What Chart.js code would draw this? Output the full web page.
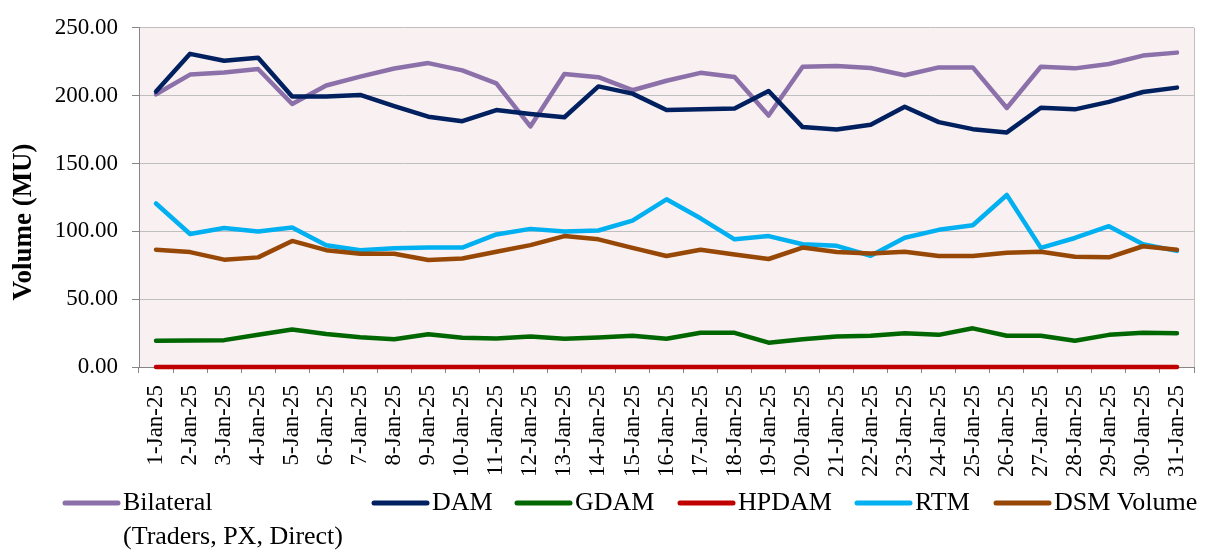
<!DOCTYPE html>
<html>
<head>
<meta charset="utf-8">
<script src="https://cdn.jsdelivr.net/npm/chart.js@4.4.1/dist/chart.umd.min.js"></script>
<style>
  body { margin: 0; background: #ffffff; }
  #wrap { width: 1217px; height: 552px; }
</style>
</head>
<body>
<div id="wrap"><canvas id="volume-chart" width="1217" height="552"></canvas></div>
<script>
// Daily volumes, January 2025 (MU)
const categories = ['1-Jan-25', '2-Jan-25', '3-Jan-25', '4-Jan-25', '5-Jan-25', '6-Jan-25', '7-Jan-25', '8-Jan-25',
  '9-Jan-25', '10-Jan-25', '11-Jan-25', '12-Jan-25', '13-Jan-25', '14-Jan-25', '15-Jan-25', '16-Jan-25',
  '17-Jan-25', '18-Jan-25', '19-Jan-25', '20-Jan-25', '21-Jan-25', '22-Jan-25', '23-Jan-25', '24-Jan-25',
  '25-Jan-25', '26-Jan-25', '27-Jan-25', '28-Jan-25', '29-Jan-25', '30-Jan-25', '31-Jan-25'];

const bilateral = [201.0, 215.5, 217.0, 219.6, 193.8, 207.5, 214.0, 220.0, 224.0, 218.6, 209.0, 177.3, 216.0, 213.6, 204.0, 211.0,
  216.8, 213.8, 185.3, 221.3, 221.8, 220.4, 215.0, 220.8, 220.8, 190.9, 221.3, 220.1, 223.3, 229.5, 231.7];
const dam = [203.0, 230.8, 225.7, 228.0, 199.3, 199.3, 200.5, 192.3, 184.5, 181.2, 189.4, 186.5, 184.1, 206.8, 201.5, 189.4,
  189.9, 190.6, 203.4, 176.8, 175.1, 178.5, 191.8, 180.5, 175.3, 172.9, 191.1, 189.9, 195.4, 202.7, 205.9];
const gdam = [19.4, 19.6, 19.8, 23.7, 27.6, 24.4, 22.0, 20.5, 24.2, 21.5, 21.0, 22.5, 20.8, 21.8, 23.0, 20.8,
  25.2, 25.2, 17.9, 20.5, 22.5, 23.0, 24.9, 23.7, 28.5, 23.0, 23.0, 19.4, 23.7, 25.2, 24.9];
const hpdam = [0, 0, 0, 0, 0, 0, 0, 0, 0, 0, 0, 0, 0, 0, 0, 0,
  0, 0, 0, 0, 0, 0, 0, 0, 0, 0, 0, 0, 0, 0, 0];
const rtm = [120.5, 98.0, 102.5, 99.9, 102.8, 89.8, 86.1, 87.6, 88.0, 88.0, 97.7, 101.8, 99.9, 100.6, 107.9, 123.6,
  109.6, 94.1, 96.5, 90.5, 89.3, 82.0, 95.3, 101.1, 104.5, 126.8, 87.8, 95.1, 103.8, 90.5, 85.6];
const dsmVolume = [86.4, 84.7, 79.1, 80.8, 92.9, 86.1, 83.5, 83.5, 78.9, 80.0, 84.9, 89.8, 96.5, 94.1, 87.8, 81.8,
  86.4, 82.9, 79.6, 88.0, 84.7, 83.7, 84.9, 81.8, 81.8, 84.2, 84.9, 81.3, 80.8, 89.0, 86.4];

const seriesNames = ['Bilateral\n(Traders, PX, Direct)', 'DAM', 'GDAM', 'HPDAM', 'RTM', 'DSM Volume'];
const seriesData = [bilateral, dam, gdam, hpdam, rtm, dsmVolume];
const seriesColors = ['#8B70A9', '#002060', '#006600', '#C00000', '#00B0F0', '#974806'];

const yTicks = [0, 50, 100, 150, 200, 250];
const yTitle = 'Volume (MU)';

const FONT = '"Liberation Serif", "Times New Roman", serif';
const AXIS_GREY = '#868686';

// where each legend entry starts (Excel lays them out unevenly)
const legendX = [63, 372, 515, 678, 855, 994];

const chartDecor = {
  id: 'chartDecor',
  beforeDraw(chart) {
    const { ctx, chartArea: a } = chart;
    ctx.save();
    ctx.fillStyle = '#F9F0F1';
    ctx.fillRect(a.left, a.top, a.right - a.left, a.bottom - a.top);
    ctx.restore();
  },
  afterDraw(chart) {
    const { ctx, chartArea: a } = chart;
    ctx.save();

    // right border of the plot area
    ctx.strokeStyle = '#BFBFBF';
    ctx.lineWidth = 1;
    ctx.beginPath();
    ctx.moveTo(a.right + 0.5, a.top);
    ctx.lineTo(a.right + 0.5, a.bottom);
    ctx.stroke();

    // y axis title
    ctx.fillStyle = '#000000';
    ctx.font = 'bold 27px ' + FONT;
    ctx.textAlign = 'center';
    ctx.textBaseline = 'middle';
    ctx.translate(24, 222);
    ctx.rotate(-Math.PI / 2);
    ctx.fillText(yTitle, 0, 0);
    ctx.restore();

    // legend
    ctx.save();
    ctx.font = '26px ' + FONT;
    ctx.textAlign = 'left';
    ctx.textBaseline = 'middle';
    chart.data.datasets.forEach((ds, i) => {
      const x = legendX[i];
      const y = 503;
      ctx.strokeStyle = ds.borderColor;
      ctx.lineWidth = 5;
      ctx.lineCap = 'round';
      ctx.beginPath();
      ctx.moveTo(x + 2, y);
      ctx.lineTo(x + 55, y);
      ctx.stroke();
      ctx.fillStyle = '#000000';
      ds.label.split('\n').forEach((line, j) => {
        ctx.fillText(line, x + 60, y + j * 34);
      });
    });
    ctx.restore();
  }
};

const ctx = document.getElementById('volume-chart').getContext('2d');

new Chart(ctx, {
  type: 'line',
  data: {
    labels: categories,
    datasets: seriesNames.map((name, i) => ({
      label: name,
      data: seriesData[i],
      borderColor: seriesColors[i],
      backgroundColor: seriesColors[i],
      borderWidth: 4.5,
      borderCapStyle: 'round',
      borderJoinStyle: 'round',
      pointRadius: 0,
      tension: 0,
      fill: false,
      clip: 8,
      order: seriesNames.length - i
    }))
  },
  options: {
    responsive: false,
    animation: false,
    layout: {
      padding: { top: 22, right: 23, left: 0, bottom: 0 }
    },
    plugins: {
      legend: { display: false },
      tooltip: { enabled: false }
    },
    scales: {
      x: {
        offset: true,
        grid: {
          display: true,
          drawOnChartArea: false,
          offset: true,
          tickLength: 6,
          tickColor: AXIS_GREY
        },
        border: { color: AXIS_GREY, width: 1 },
        ticks: {
          autoSkip: false,
          maxRotation: 90,
          minRotation: 90,
          padding: 12,
          color: '#000000',
          font: { family: FONT, size: 23 }
        },
        afterFit(scale) {
          scale.height = 185;
        }
      },
      y: {
        min: 0,
        max: 250,
        afterBuildTicks(scale) {
          scale.ticks = yTicks.map(v => ({ value: v }));
        },
        grid: {
          color: '#BFBFBF',
          lineWidth: 1,
          tickLength: 7,
          tickColor: AXIS_GREY
        },
        border: { color: AXIS_GREY, width: 1 },
        ticks: {
          padding: 14,
          color: '#000000',
          font: { family: FONT, size: 23 },
          callback: v => v.toFixed(2)
        },
        afterFit(scale) {
          scale.width = 139;
        }
      }
    }
  },
  plugins: [chartDecor]
});
</script>
</body>
</html>
